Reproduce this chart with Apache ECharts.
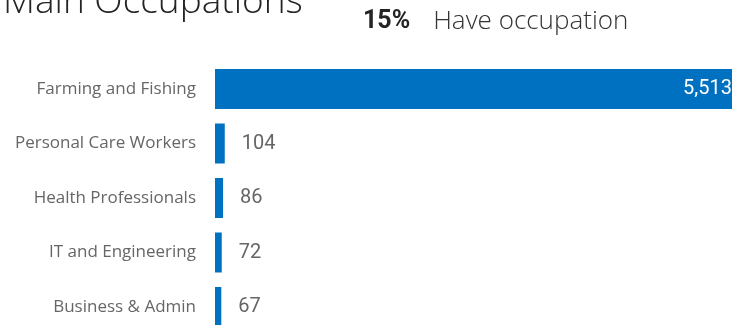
<!DOCTYPE html>
<html>
<head>
<meta charset="utf-8">
<script src="https://cdn.jsdelivr.net/npm/echarts@6/dist/echarts.min.js"></script>
<style>
html,body{margin:0;padding:0;background:#fff;overflow:hidden;}
#chart{width:732px;height:336px;}
</style>
</head>
<body>
<div id="chart"></div>
<script>
const categories = ['Farming and Fishing', 'Personal Care Workers', 'Health Professionals', 'IT and Engineering', 'Business & Admin'];
const values = [5513, 104, 86, 72, 67];
const chartTitle = 'Main Occupations';
const kpiValue = '15%';
const kpiLabel = 'Have occupation';

const chart = echarts.init(document.getElementById('chart'), null, {renderer: 'canvas'});
const numFont = 'Roboto, sans-serif';

chart.setOption({
  animation: false,
  title: [
    {
      text: chartTitle,
      left: -2,
      top: -21,
      textStyle: {fontFamily: '"Open Sans", sans-serif', fontSize: 37, fontWeight: 300, color: '#252423'}
    },
    {
      text: '{a|' + kpiValue + '}   {b|' + kpiLabel + '}',
      left: 358,
      top: 4,
      textStyle: {
        rich: {
          a: {fontFamily: numFont, fontSize: 25, fontWeight: 'bold', color: '#252423'},
          b: {fontFamily: '"Open Sans", sans-serif', fontSize: 26, fontWeight: 300, color: '#333', padding: [0, 0, 0, 8]}
        }
      }
    }
  ],
  grid: {left: 215, top: 61.75, height: 272.5, right: 0},
  xAxis: {
    type: 'value', min: 0, max: 5513,
    show: false
  },
  yAxis: {
    type: 'category', data: categories, inverse: true,
    axisLine: {show: false}, axisTick: {show: false}, splitLine: {show: false},
    axisLabel: {margin: 19, fontFamily: '"Open Sans", sans-serif', fontSize: 17, color: '#666'}
  },
  series: [{
    type: 'bar',
    barWidth: 40,
    itemStyle: {color: '#0070C0'},
    label: {
      show: true, position: 'right', distance: 17,
      fontFamily: numFont, fontSize: 20, color: '#666',
      formatter: p => p.value.toLocaleString('en-US')
    },
    data: values.map((v, i) => i === 0 ? {
      value: v,
      label: {position: 'insideRight', distance: 0, color: '#fff', fontSize: 20}
    } : v)
  }]
});
</script>
</body>
</html>
